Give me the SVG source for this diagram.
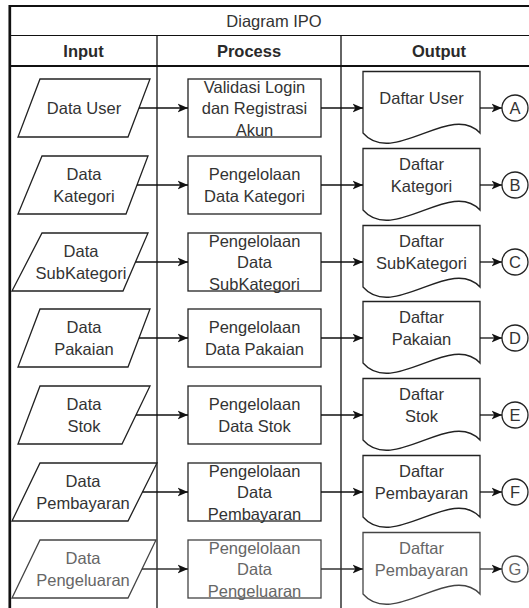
<svg xmlns="http://www.w3.org/2000/svg" width="529" height="608" viewBox="0 0 529 608">
  <style>
    .frame { fill: none; stroke: #111; }
    .shape { fill: #fff; stroke: #222; stroke-width: 1.3; }
    .edge { fill: none; stroke: #111; stroke-width: 1.3; }
    text { font-family: "Liberation Sans", Arial, sans-serif; font-size: 16.5px; fill: #333; text-anchor: middle; }
    .head { font-weight: bold; fill: #2a2a2a; }
    .faded .shape { stroke: #444; }
    .faded text { fill: #666; }
    .edge.faded { stroke: #333; }
  </style>
  <defs>
    <marker id="arrow" viewBox="0 0 11 10" refX="10.5" refY="5" markerWidth="11" markerHeight="10" markerUnits="userSpaceOnUse" orient="auto">
      <path d="M0,0.5 L10.5,5 L0,9.5 L2.8,5 Z" fill="#111"/>
    </marker>
    <path id="doc" d="M0,0 H117 V61.5 C88,30 30,96 0,61.5 Z"/>
  </defs>

  <rect width="529" height="608" fill="#fff"/>

  <!-- table frame -->
  <g id="table">
    <line class="frame" x1="9" y1="6" x2="529" y2="6" stroke-width="2.2"/>
    <line class="frame" x1="9.8" y1="5" x2="9.8" y2="608" stroke-width="2.7"/>
    <line class="frame" x1="10" y1="35.5" x2="529" y2="35.5" stroke-width="1.1" stroke="#333"/>
    <line class="frame" x1="10" y1="66" x2="529" y2="66" stroke-width="2" stroke="#333"/>
    <line class="frame" x1="157" y1="36" x2="157" y2="608" stroke-width="1.3"/>
    <line class="frame" x1="341" y1="36" x2="341" y2="608" stroke-width="1.3"/>
    <text x="274" y="27">Diagram IPO</text>
    <text class="head" x="83.5" y="57">Input</text>
    <text class="head" x="249" y="57">Process</text>
    <text class="head" x="439" y="57">Output</text>
  </g>

  <!-- row 1 -->
  <g id="in1"><polygon class="shape" points="40,79 150,79 128,137 18,137"/><text x="84" y="114">Data User</text></g>
  <g id="proc1"><rect class="shape" x="188" y="79" width="133" height="58"/><text x="254.5" y="92.5">Validasi Login</text><text x="254.5" y="114">dan Registrasi</text><text x="254.5" y="135.5">Akun</text></g>
  <g id="out1"><use href="#doc" class="shape" transform="translate(363,71.5)"/><text x="421.5" y="104">Daftar User</text></g>
  <g id="conA"><circle class="shape" cx="515" cy="108" r="13"/><text x="515" y="114">A</text></g>

  <!-- row 2 -->
  <g id="in2"><polygon class="shape" points="42,156 148,156 126,214 18,214"/><text x="84" y="180.25">Data</text><text x="84" y="201.75">Kategori</text></g>
  <g id="proc2"><rect class="shape" x="188" y="156" width="133" height="58"/><text x="254.5" y="180.25">Pengelolaan</text><text x="254.5" y="201.75">Data Kategori</text></g>
  <g id="out2"><use href="#doc" class="shape" transform="translate(363,148.5)"/><text x="421.5" y="170.25">Daftar</text><text x="421.5" y="191.75">Kategori</text></g>
  <g id="conB"><circle class="shape" cx="515" cy="185" r="13"/><text x="515" y="191">B</text></g>

  <!-- row 3 -->
  <g id="in3"><polygon class="shape" points="42,233 148,233 123,291 12,291"/><text x="81" y="257.25">Data</text><text x="81" y="278.75">SubKategori</text></g>
  <g id="proc3"><rect class="shape" x="188" y="233" width="133" height="58"/><text x="254.5" y="246.5">Pengelolaan</text><text x="254.5" y="268">Data</text><text x="254.5" y="289.5">SubKategori</text></g>
  <g id="out3"><use href="#doc" class="shape" transform="translate(363,225.5)"/><text x="421.5" y="247.25">Daftar</text><text x="421.5" y="268.75">SubKategori</text></g>
  <g id="conC"><circle class="shape" cx="515" cy="262" r="13"/><text x="515" y="268">C</text></g>

  <!-- row 4 -->
  <g id="in4"><polygon class="shape" points="40,309 150,309 128,367 18,367"/><text x="84" y="333.25">Data</text><text x="84" y="354.75">Pakaian</text></g>
  <g id="proc4"><rect class="shape" x="188" y="309" width="133" height="58"/><text x="254.5" y="333.25">Pengelolaan</text><text x="254.5" y="354.75">Data Pakaian</text></g>
  <g id="out4"><use href="#doc" class="shape" transform="translate(363,301.5)"/><text x="421.5" y="323.25">Daftar</text><text x="421.5" y="344.75">Pakaian</text></g>
  <g id="conD"><circle class="shape" cx="515" cy="338" r="13"/><text x="515" y="344">D</text></g>

  <!-- row 5 -->
  <g id="in5"><polygon class="shape" points="40,386 150,386 122,444 18,444"/><text x="84" y="410.25">Data</text><text x="84" y="431.75">Stok</text></g>
  <g id="proc5"><rect class="shape" x="188" y="386" width="133" height="58"/><text x="254.5" y="410.25">Pengelolaan</text><text x="254.5" y="431.75">Data Stok</text></g>
  <g id="out5"><use href="#doc" class="shape" transform="translate(363,378.5)"/><text x="421.5" y="400.25">Daftar</text><text x="421.5" y="421.75">Stok</text></g>
  <g id="conE"><circle class="shape" cx="515" cy="415" r="13"/><text x="515" y="421">E</text></g>

  <!-- row 6 -->
  <g id="in6"><polygon class="shape" points="40,463 157,463 128,521 12,521"/><text x="83" y="487.25">Data</text><text x="83" y="508.75">Pembayaran</text></g>
  <g id="proc6"><rect class="shape" x="188" y="463" width="133" height="58"/><text x="254.5" y="476.5">Pengelolaan</text><text x="254.5" y="498">Data</text><text x="254.5" y="519.5">Pembayaran</text></g>
  <g id="out6"><use href="#doc" class="shape" transform="translate(363,455.5)"/><text x="421.5" y="477.25">Daftar</text><text x="421.5" y="498.75">Pembayaran</text></g>
  <g id="conF"><circle class="shape" cx="515" cy="492" r="13"/><text x="515" y="498">F</text></g>

  <!-- row 7 -->
  <g class="faded">
    <g id="in7"><polygon class="shape" points="40,540 156,540 128,598 12,598"/><text x="83" y="564.25">Data</text><text x="83" y="585.75">Pengeluaran</text></g>
    <g id="proc7"><rect class="shape" x="188" y="540" width="133" height="58"/><text x="254.5" y="553.5">Pengelolaan</text><text x="254.5" y="575">Data</text><text x="254.5" y="596.5">Pengeluaran</text></g>
    <g id="out7"><use href="#doc" class="shape" transform="translate(363,532.5)"/><text x="421.5" y="554.25">Daftar</text><text x="421.5" y="575.75">Pembayaran</text></g>
    <g id="conG"><circle class="shape" cx="515" cy="569" r="13"/><text x="515" y="575">G</text></g>
  </g>

  <!-- connectors -->
  <g id="connectors">
    <line class="edge" x1="139" y1="108" x2="188" y2="108" marker-end="url(#arrow)"/>
    <line class="edge" x1="321" y1="108" x2="363" y2="108" marker-end="url(#arrow)"/>
    <line class="edge" x1="480" y1="108" x2="502" y2="108" marker-end="url(#arrow)"/>
    <line class="edge" x1="137" y1="185" x2="188" y2="185" marker-end="url(#arrow)"/>
    <line class="edge" x1="321" y1="185" x2="363" y2="185" marker-end="url(#arrow)"/>
    <line class="edge" x1="480" y1="185" x2="502" y2="185" marker-end="url(#arrow)"/>
    <line class="edge" x1="135.5" y1="262" x2="188" y2="262" marker-end="url(#arrow)"/>
    <line class="edge" x1="321" y1="262" x2="363" y2="262" marker-end="url(#arrow)"/>
    <line class="edge" x1="480" y1="262" x2="502" y2="262" marker-end="url(#arrow)"/>
    <line class="edge" x1="139" y1="338" x2="188" y2="338" marker-end="url(#arrow)"/>
    <line class="edge" x1="321" y1="338" x2="363" y2="338" marker-end="url(#arrow)"/>
    <line class="edge" x1="480" y1="338" x2="502" y2="338" marker-end="url(#arrow)"/>
    <line class="edge" x1="136" y1="415" x2="188" y2="415" marker-end="url(#arrow)"/>
    <line class="edge" x1="321" y1="415" x2="363" y2="415" marker-end="url(#arrow)"/>
    <line class="edge" x1="480" y1="415" x2="502" y2="415" marker-end="url(#arrow)"/>
    <line class="edge" x1="142.5" y1="492" x2="188" y2="492" marker-end="url(#arrow)"/>
    <line class="edge" x1="321" y1="492" x2="363" y2="492" marker-end="url(#arrow)"/>
    <line class="edge" x1="480" y1="492" x2="502" y2="492" marker-end="url(#arrow)"/>
    <line class="edge faded" x1="142" y1="569" x2="188" y2="569" marker-end="url(#arrow)"/>
    <line class="edge faded" x1="321" y1="569" x2="363" y2="569" marker-end="url(#arrow)"/>
    <line class="edge faded" x1="480" y1="569" x2="502" y2="569" marker-end="url(#arrow)"/>
  </g>
</svg>
